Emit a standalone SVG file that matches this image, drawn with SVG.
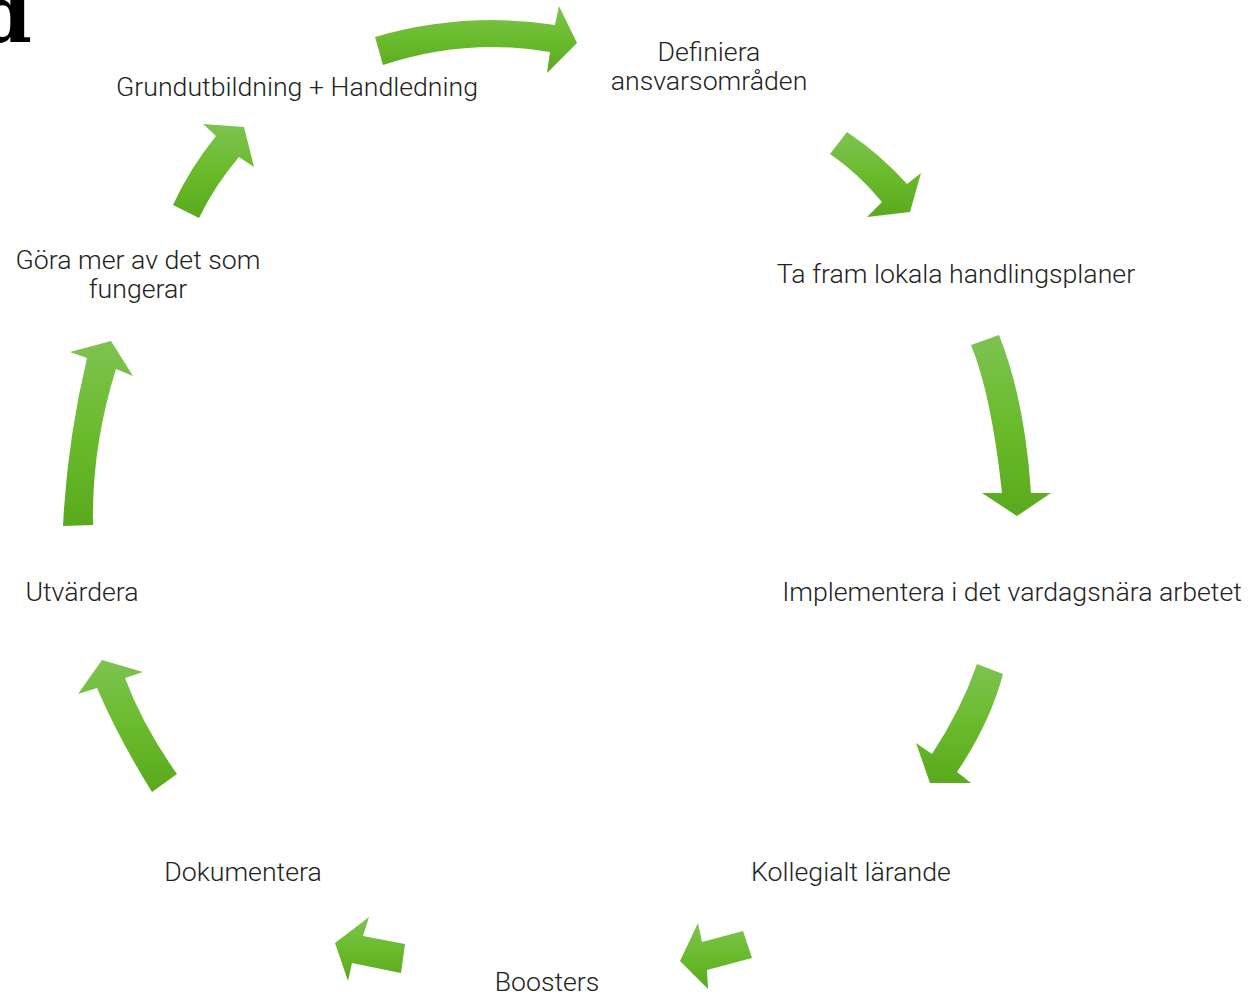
<svg xmlns="http://www.w3.org/2000/svg" width="1250" height="996" viewBox="0 0 1250 996">
<defs>
<linearGradient id="g" x1="0" y1="0" x2="0" y2="1">
<stop offset="0" stop-color="#7dc351"/>
<stop offset="0.5" stop-color="#6abb2c"/>
<stop offset="1" stop-color="#5aa91e"/>
</linearGradient>
<style>
.lbl{font-family:Roboto,"Liberation Sans",sans-serif;font-weight:300;font-size:26.7px;fill:#222;text-anchor:middle}
.arr{fill:url(#g)}
</style>
</defs>
<rect width="1250" height="996" fill="#fff"/>
<text x="32" y="42" font-family="'DejaVu Serif',serif" font-weight="bold" font-size="80" text-anchor="end" fill="#000">d</text>
<g id="connectors">
<path class="arr" d="M375,37 Q465,11 555,25 L559,6 L577,43 L547,73 L550,52 Q466,37.5 383,65 Z"/>
<path class="arr" d="M847,132 Q880,154 907,184 L921,173 L910,212 L867,217 L882,202 Q858,173 830,154 Z"/>
<path class="arr" d="M971,345 L999,335 Q1025,400 1031,493 L1051,493 L1017,516 L982,493 L1002,493 Q991.5,395 971,345 Z"/>
<path class="arr" d="M977,664 L1003,674 Q990,723 957,772 L971,783 L930,783 L916,743 L932,754 Q961.5,709 977,664 Z"/>
<path class="arr" d="M743,931 L752,958 L707,970 L708,989 L680,961 L698,923 L702,942 Z"/>
<path class="arr" d="M405,944 L401,973 L352,963 L348,981 L335,943 L369,917 L363,936 Z"/>
<path class="arr" d="M152,792 L177,774 Q143,726 125,678 L143,672 L102,660 L78,694 L97,688 Q119.5,740 152,792 Z"/>
<path class="arr" d="M63,526 L93,525 Q91.5,447 116,369 L133,376 L111,341 L70,352 L87,358 Q67,442 63,526 Z"/>
<path class="arr" d="M173,205 L199,218 Q215,185 239,157 L254,167 L244,127 L203,124 L216,136 Q190,168 173,205 Z"/>
</g>
<g id="n1"><text class="lbl" x="297" y="96">Grundutbildning + Handledning</text></g>
<g id="n2"><text class="lbl" x="709" y="61">Definiera</text><text class="lbl" x="709" y="90">ansvarsområden</text></g>
<g id="n3"><text class="lbl" x="956" y="283">Ta fram lokala handlingsplaner</text></g>
<g id="n4"><text class="lbl" x="1012" y="601">Implementera i det vardagsnära arbetet</text></g>
<g id="n5"><text class="lbl" x="851" y="881">Kollegialt lärande</text></g>
<g id="n6"><text class="lbl" x="547" y="991">Boosters</text></g>
<g id="n7"><text class="lbl" x="243" y="881">Dokumentera</text></g>
<g id="n8"><text class="lbl" x="82" y="601">Utvärdera</text></g>
<g id="n9"><text class="lbl" x="138" y="269">Göra mer av det som</text><text class="lbl" x="138" y="298">fungerar</text></g>
</svg>
